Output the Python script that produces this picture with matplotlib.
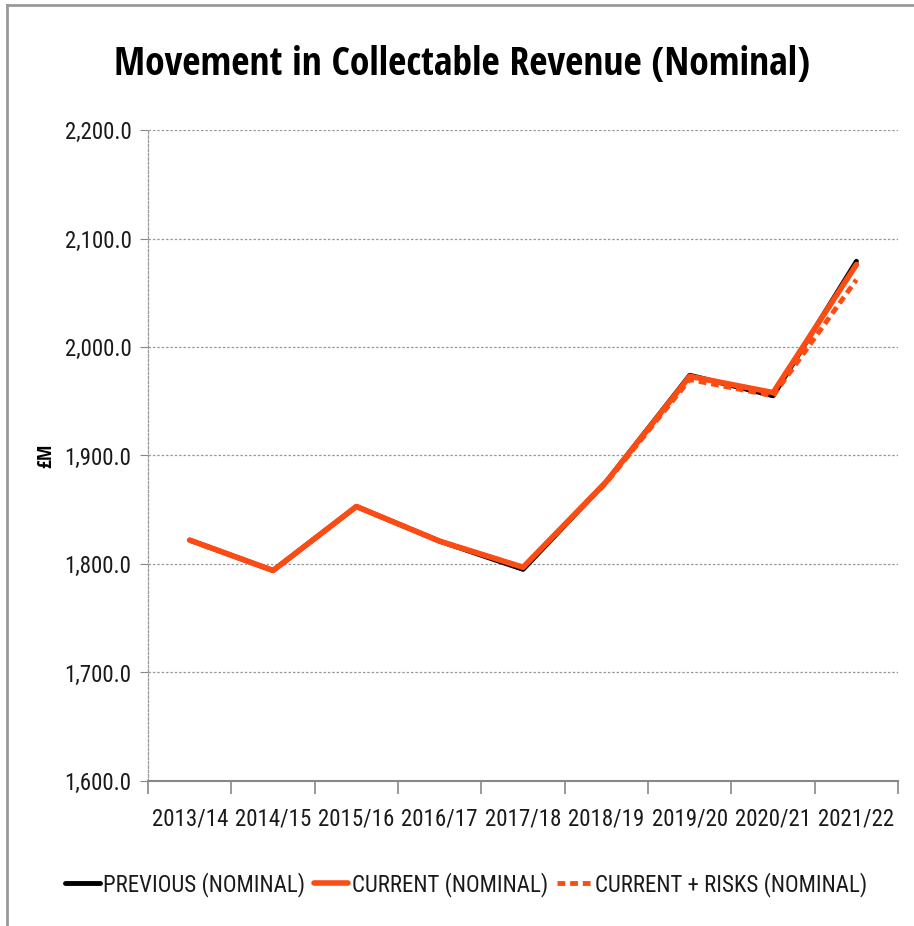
import matplotlib
matplotlib.use("Agg")
import matplotlib.pyplot as plt
from matplotlib.ticker import FuncFormatter, FixedLocator

# Datos (£M)
years = ["2013/14", "2014/15", "2015/16", "2016/17", "2017/18",
         "2018/19", "2019/20", "2020/21", "2021/22"]
previous = [1822, 1794, 1853, 1821, 1795, 1876, 1974, 1955, 2079]
current = [1822, 1794, 1853, 1821, 1797, 1876, 1973, 1958, 2076]
current_risks = [1822, 1794, 1853, 1821, 1797, 1875, 1970, 1955, 2062]

# Fuentes estrechas (parecidas a Calibri comprimida)
plt.rcParams["font.family"] = ["Roboto Condensed", "DejaVu Sans"]
bold_font = ["Open Sans Condensed", "Roboto Condensed", "DejaVu Sans"]

orange = "#fc4c14"

fig = plt.figure(figsize=(9.14, 9.26), dpi=100)
ax = fig.add_axes([0.162, 0.1566, 0.8206, 0.703])

x = list(range(len(years)))
ax.plot(x, previous, color="black", lw=3.5, solid_capstyle="round", zorder=3,
        label="PREVIOUS (NOMINAL)")
ax.plot(x, current, color=orange, lw=4, solid_capstyle="round", zorder=4,
        label="CURRENT (NOMINAL)")
ax.plot(x, current_risks, color=orange, lw=3.5, ls=(0, (1.6, 1.0)), zorder=5,
        label="CURRENT + RISKS (NOMINAL)")

ax.set_xlim(-0.5, len(years) - 0.5)
ax.set_ylim(1600, 2200)
ax.set_yticks(range(1600, 2201, 100))
ax.yaxis.set_major_formatter(FuncFormatter(lambda v, p: f"{v:,.1f}"))
ax.grid(axis="y", color="#999999", ls=(0, (2, 1.5)), lw=0.9)

ax.set_xticks(x)
ax.set_xticklabels(years)
ax.xaxis.set_minor_locator(FixedLocator([i - 0.5 for i in range(len(years) + 1)]))
ax.tick_params(axis="x", which="major", length=0, pad=19, labelsize=16.5,
               labelcolor="#1a1a1a")
ax.tick_params(axis="x", which="minor", length=9, color="#888888", width=1.2)
ax.tick_params(axis="y", length=6, color="#888888", labelsize=16.5, pad=6,
               labelcolor="#1a1a1a")

for s in ["top", "right"]:
    ax.spines[s].set_visible(False)
ax.spines["bottom"].set_color("#888888")
ax.spines["bottom"].set_linewidth(1.5)
ax.spines["left"].set_color("#999999")
ax.spines["left"].set_linestyle((0, (2, 1.5)))
ax.spines["left"].set_linewidth(0.9)

fig.text(0.051, 0.508, "£M", rotation=90, ha="center", va="center",
         fontsize=14, fontweight="bold", family=bold_font)
fig.text(0.505, 0.93, "Movement in Collectable Revenue (Nominal)",
         ha="center", va="center", fontsize=28.5, fontweight="bold",
         family=bold_font)

fig.legend(loc="center", bbox_to_anchor=(0.51, 0.045), ncol=3, frameon=False,
           fontsize=16.5, handlelength=1.5, handletextpad=0.15, columnspacing=0.4,
           labelcolor="#1a1a1a")

# Borde gris de la figura
fig.add_artist(plt.Line2D([0.008, 0.008], [0, 0.995], color="#999999", lw=2,
                          transform=fig.transFigure))
fig.add_artist(plt.Line2D([0.008, 1], [0.995, 0.995], color="#999999", lw=2,
                          transform=fig.transFigure))

fig.savefig("out.png", dpi=100)
